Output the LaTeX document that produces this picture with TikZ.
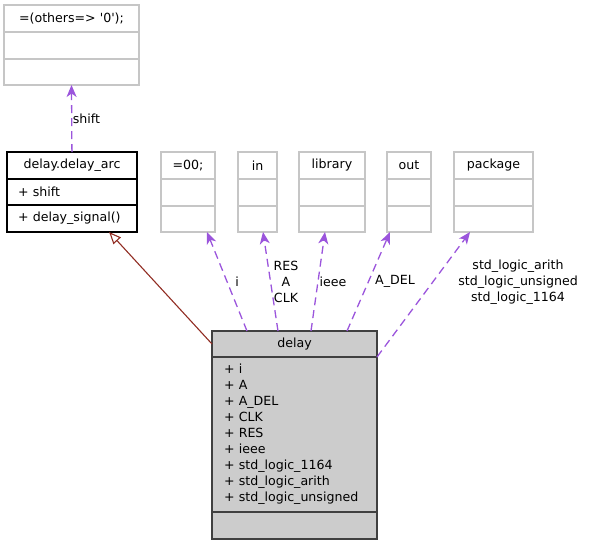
\documentclass[tikz,border=0pt]{standalone}
\usepackage{fontspec}
\setmainfont{DejaVu Sans}
\usepackage{tikz}
\usetikzlibrary{arrows.meta}
\definecolor{depcol}{RGB}{155,85,220}
\definecolor{inhcol}{RGB}{145,45,35}

\begin{document}
\begin{tikzpicture}[x=1pt,y=-1pt,
  every node/.style={font=\fontsize{12.6}{16}\selectfont},
  cell/.style={draw=gray!45,line width=1.2pt,inner sep=0pt,outer sep=0pt,anchor=north west,minimum width=#1,minimum height=27pt},
  dep/.style={depcol,line width=1.3pt,dash pattern=on 8pt off 5pt,-{Stealth[length=12pt,width=10pt,inset=3.5pt]}},
  inh/.style={inhcol,line width=1.1pt,-{Triangle[open,length=12pt,width=10pt]}}]
  \useasboundingbox (0,0) rectangle (589,547);
  \node[cell=135pt] (T1) at (4,5) {=(others=> \textquotesingle0\textquotesingle);};
  \node[cell=135pt] (T2) at (4,32) {};
  \node[cell=135pt,minimum height=26pt] (T3) at (4,59) {};
  \node[cell=130pt,draw=black] (A1) at (7,152) {delay.delay\_arc};
  \node[cell=130pt,draw=black,minimum height=26pt,align=left,text width=108pt,inner xsep=11pt] (A2) at (7,179) {+ shift};
  \node[cell=130pt,draw=black,align=left,text width=108pt,inner xsep=11pt] (A3) at (7,205) {+ delay\_signal()};
  \node[cell=54pt] (E3) at (161,152) {=00;};
  \node[cell=54pt] at (161,179) {};
  \node[cell=54pt,minimum height=26pt] (E3c) at (161,206) {};
  \node[cell=39pt] (E4) at (238,152) {in};
  \node[cell=39pt] at (238,179) {};
  \node[cell=39pt,minimum height=26pt] (E4c) at (238,206) {};
  \node[cell=66pt] (E5) at (299,152) {library};
  \node[cell=66pt] at (299,179) {};
  \node[cell=66pt,minimum height=26pt] (E5c) at (299,206) {};
  \node[cell=44pt] (E6) at (387,152) {out};
  \node[cell=44pt] at (387,179) {};
  \node[cell=44pt,minimum height=26pt] (E6c) at (387,206) {};
  \node[cell=79pt] (E7) at (454,152) {package};
  \node[cell=79pt] at (454,179) {};
  \node[cell=79pt,minimum height=26pt] (E7c) at (454,206) {};
  \node[cell=165pt,draw=black!75,fill=gray!40,minimum height=26pt] (D1) at (212,331) {delay};
  \node[cell=165pt,draw=black!75,fill=gray!40,minimum height=155pt,align=left,text width=141pt,inner xsep=12pt] (D2) at (212,357) {+ i\\+ A\\+ A\_DEL\\+ CLK\\+ RES\\+ ieee\\+ std\_logic\_1164\\+ std\_logic\_arith\\+ std\_logic\_unsigned};
  \node[cell=165pt,draw=black!75,fill=gray!40] (D3) at (212,512) {};
  \draw[dep] (A1) -- (T3.south) node[midway,right,inner sep=0.5pt,text=black]{shift};
  \draw[inh] (D1.west) -- (A3.-20);
  \draw[dep] ([xshift=35pt]D1.north west) -- ([xshift=19pt]E3c.south) node[midway,xshift=10pt,text=black]{i};
  \draw[dep] ([xshift=66pt]D1.north west) -- ([xshift=5.5pt]E4c.south) node[midway,xshift=15.5pt,align=center,text=black]{RES\\A\\CLK};
  \draw[dep] ([xshift=99pt]D1.north west) -- ([xshift=-7pt]E5c.south) node[midway,xshift=15pt,text=black]{ieee};
  \draw[dep] ([xshift=135pt]D1.north west) -- ([xshift=-19pt]E6c.south) node[midway,xshift=26.5pt,text=black]{A\_DEL};
  \draw[dep] (D1.south east) -- ([xshift=-23.5pt]E7c.south) node[midway,xshift=94.5pt,yshift=12.5pt,align=center,text=black]{std\_logic\_arith\\std\_logic\_unsigned\\std\_logic\_1164};
\end{tikzpicture}
\end{document}
